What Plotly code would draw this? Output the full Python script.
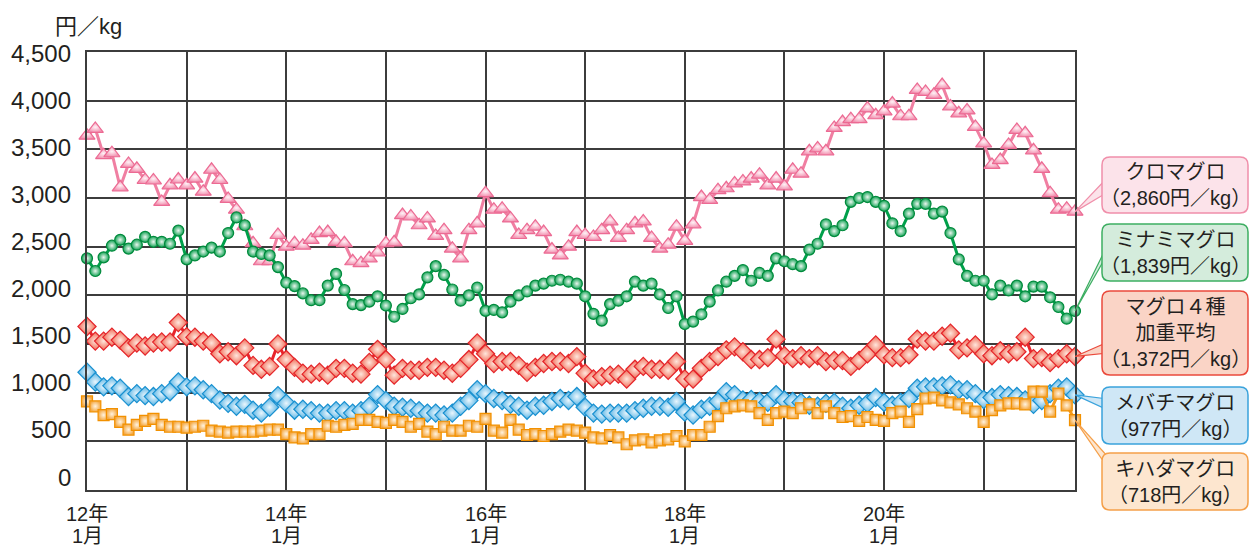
import plotly.graph_objects as go

# Monthly prices, Jan 2012 .. Dec 2021 (yen / kg)
months = list(range(120))

kuro = [3640, 3710, 3440, 3460, 3110, 3350, 3300, 3185, 3180, 2960, 3130, 3190,
        3130, 3200, 3065, 3290, 3185, 2990, 2880, 2710, 2535, 2350, 2350, 2620,
        2500, 2535, 2510, 2570, 2640, 2650, 2550, 2535, 2350, 2330, 2380, 2440,
        2535, 2545, 2825, 2810, 2720, 2790, 2610, 2670, 2480, 2380, 2670, 2740,
        3050, 2880, 2890, 2790, 2620, 2670, 2705, 2650, 2470, 2410, 2500, 2650,
        2620, 2600, 2670, 2760, 2590, 2670, 2740, 2760, 2590, 2480, 2520, 2705,
        2560, 2730, 3010, 2980, 3080, 3100, 3150, 3170, 3200, 3240, 3130, 3200,
        3120, 3290, 3250, 3480, 3510, 3480, 3720, 3780, 3810, 3810, 3920, 3850,
        3890, 3970, 3840, 3840, 4110, 4090, 4060, 4160, 3940, 3870, 3900, 3730,
        3560, 3340, 3390, 3545, 3700, 3665, 3490, 3300, 3050, 2880, 2890, 2860]

minami = [2380, 2250, 2390, 2510, 2570, 2480, 2520, 2600, 2550, 2550, 2530, 2665,
          2370, 2410, 2450, 2490, 2450, 2640, 2800, 2720, 2450, 2425, 2410, 2290,
          2130, 2095, 2020, 1950, 1950, 2100, 2220, 2055, 1910, 1900, 1935, 1990,
          1895, 1780, 1860, 1970, 2010, 2185, 2300, 2210, 2060, 1945, 2000, 2080,
          1840, 1850, 1825, 1935, 2000, 2040, 2100, 2120, 2150, 2160, 2140, 2120,
          1990, 1810, 1740, 1910, 1945, 1990, 2140, 2100, 2120, 2010, 1870, 1990,
          1705, 1730, 1805, 1935, 2050, 2140, 2200, 2260, 2150, 2230, 2200, 2380,
          2350, 2320, 2300, 2470, 2530, 2730, 2660, 2720, 2960, 3000, 3010, 2960,
          2920, 2740, 2660, 2840, 2940, 2940, 2840, 2860, 2640, 2370, 2200, 2150,
          2150, 2010, 2100, 2050, 2100, 1990, 2090, 2090, 1980, 1880, 1760, 1839]

avg4 = [1680, 1530, 1530, 1570, 1540, 1460, 1510, 1480, 1510, 1520, 1520, 1720,
        1575, 1570, 1530, 1510, 1400, 1420, 1380, 1460, 1280, 1240, 1270, 1500,
        1340, 1260, 1200, 1190, 1210, 1180, 1250, 1250, 1200, 1190, 1310, 1445,
        1340, 1180, 1250, 1230, 1230, 1260, 1260, 1230, 1200, 1250, 1340, 1510,
        1400, 1300, 1320, 1320, 1280, 1210, 1260, 1300, 1320, 1320, 1300, 1370,
        1200, 1140, 1165, 1180, 1190, 1140, 1240, 1270, 1240, 1240, 1230, 1320,
        1140, 1140, 1250, 1320, 1370, 1440, 1470, 1420, 1340, 1340, 1360, 1550,
        1380, 1350, 1380, 1350, 1380, 1320, 1330, 1330, 1270, 1330, 1400, 1490,
        1390, 1360, 1360, 1390, 1550, 1530, 1530, 1580, 1610, 1440, 1460, 1490,
        1400, 1380, 1430, 1400, 1420, 1570, 1350, 1360, 1310, 1350, 1400, 1372]

mebachi = [1210, 1110, 1060, 1070, 1045, 960, 990, 970, 960, 990, 1010, 1110,
           1060, 1070, 1030, 990, 925, 890, 860, 880, 820, 790, 850, 970,
           890, 820, 830, 815, 790, 790, 815, 815, 790, 815, 860, 980,
           920, 860, 850, 840, 815, 790, 790, 770, 790, 860, 920, 1030,
           990, 940, 920, 880, 860, 820, 860, 870, 910, 940, 920, 960,
           850, 790, 780, 790, 790, 790, 815, 840, 860, 860, 850, 910,
           800, 770, 830, 860, 910, 1010, 980, 925, 930, 910, 900, 980,
           925, 910, 900, 870, 860, 890, 900, 860, 840, 870, 890, 950,
           900, 870, 900, 940, 1045, 1060, 1060, 1070, 1080, 1030, 1030, 990,
           930, 950, 980, 970, 960, 925, 880, 920, 990, 1045, 1060, 977]

kihada = [910, 860, 770, 780, 700, 620, 670, 710, 730, 670, 650, 650,
          640, 650, 660, 610, 600, 590, 600, 600, 600, 610, 620, 620,
          575, 540, 530, 575, 575, 660, 650, 670, 680, 720, 720, 700,
          690, 720, 700, 650, 680, 600, 575, 650, 610, 610, 660, 650,
          730, 610, 590, 720, 620, 565, 575, 555, 575, 600, 620, 610,
          590, 540, 530, 565, 540, 470, 510, 520, 490, 510, 520, 555,
          500, 565, 565, 650, 760, 840, 860, 870, 860, 790, 720, 790,
          805, 790, 840, 880, 790, 860, 790, 750, 760, 710, 750, 720,
          710, 790, 805, 700, 830, 940, 950, 920, 900, 880, 840, 805,
          700, 820, 870, 890, 890, 880, 1010, 1010, 805, 990, 870, 718]

names = ["クロマグロ", "ミナミマグロ", "マグロ４種<br>加重平均", "メバチマグロ", "キハダマグロ"]
series = [kuro, minami, avg4, mebachi, kihada]

# yearly gridlines; a two-line label (year / month) every second January
x_gridvals = list(range(0, 120, 12))
x_labelvals = [0, 24, 48, 72, 96]
x_labelyears = ["12年", "14年", "16年", "18年", "20年"]
x_labelmonth = "1月"
y_tickvals = list(range(0, 4501, 500))
y_ticktext = ["0", "500", "1,000", "1,500", "2,000", "2,500",
              "3,000", "3,500", "4,000", "4,500"]

Y_MAX = 4500
FONT = "Noto Sans CJK JP, Noto Sans, sans-serif"
NUM_FONT = "Liberation Sans, Noto Sans CJK JP, sans-serif"
TEXT = "#231F20"
GRID = "#3C3C3C"

styles = [
    dict(line="#F07FA2", mk="#F291B0", mc="#FFF2F6", me="#EC6A93", sym="triangle-up", size=14,
         fill="#FCE3EA", edge="#F08FAA"),
    dict(line="#00A04A", mk="#13A355", mc="#EAF6EE", me="#008A3C", sym="circle", size=11,
         fill="#D4ECDC", edge="#3DAE62"),
    dict(line="#E8242B", mk="#F06A55", mc="#FFE6DC", me="#E5242A", sym="diamond", size=14,
         fill="#FAD4C6", edge="#EA4A3C"),
    dict(line="#1C9AD6", mk="#58B4E4", mc="#EAF6FD", me="#1890D0", sym="diamond", size=14,
         fill="#CFE7F6", edge="#3AA3DC"),
    dict(line="#F39A1E", mk="#F5AA45", mc="#FFF3E0", me="#F29100", sym="square", size=11,
         fill="#FDE6CF", edge="#F5A04A"),
]

fig = go.Figure()
for name, vals, st in zip(names, series, styles):
    fig.add_trace(go.Scatter(
        x=months, y=vals, mode="lines+markers", name=name.replace("<br>", ""),
        line=dict(color=st["line"], width=3),
        marker=dict(symbol=st["sym"], size=st["size"], color=st["mk"],
                    gradient=dict(type="radial", color=st["mc"]),
                    line=dict(color=st["me"], width=1.2)),
        cliponaxis=False, showlegend=False,
    ))

# plot area in pixels (used to place the callout boxes)
PL, PR, PT, PB = 87, 1075, 52, 490


def px(x):
    return (x - PL) / (PR - PL)


def py(y):
    return (PB - y) / (PB - PT)


def rounded_rect(x0, y0, x1, y1, r=8):
    pts = [
        f"M {px(x0 + r)},{py(y0)}",
        f"L {px(x1 - r)},{py(y0)}",
        f"Q {px(x1)},{py(y0)} {px(x1)},{py(y0 + r)}",
        f"L {px(x1)},{py(y1 - r)}",
        f"Q {px(x1)},{py(y1)} {px(x1 - r)},{py(y1)}",
        f"L {px(x0 + r)},{py(y1)}",
        f"Q {px(x0)},{py(y1)} {px(x0)},{py(y1 - r)}",
        f"L {px(x0)},{py(y0 + r)}",
        f"Q {px(x0)},{py(y0)} {px(x0 + r)},{py(y0)}",
        "Z",
    ]
    return " ".join(pts)


# callout boxes: (top, bottom, wedge base top, wedge base bottom)
BOX_L, BOX_R = 1102, 1248
boxes = [
    (157, 213, 177, 192),
    (224, 281, 244, 253),
    (291, 375, 342, 353),
    (387, 444, 399, 410),
    (453, 510, 457, 468),
]

for name, vals, st, (top, bot, w0, w1) in zip(names, series, styles, boxes):
    tip_y = vals[-1] / Y_MAX
    wedge = (f"M {px(BOX_L + 6)},{py(w0)} L 1,{tip_y} "
             f"L {px(BOX_L + 6)},{py(w1)} Z")
    fig.add_shape(type="path", path=wedge, xref="paper", yref="paper",
                  fillcolor=st["fill"], line=dict(color=st["edge"], width=1.2),
                  layer="above")
    fig.add_shape(type="path", path=rounded_rect(BOX_L, top, BOX_R, bot),
                  xref="paper", yref="paper", fillcolor=st["fill"],
                  line=dict(color=st["edge"], width=1.5), layer="above")
    label = f"{name}<br>（{vals[-1]:,}円／kg）"
    fig.add_annotation(x=px((BOX_L + BOX_R) / 2), y=py((top + bot) / 2),
                       xref="paper", yref="paper", text=label, showarrow=False,
                       xanchor="center", yanchor="middle", align="center",
                       font=dict(family=NUM_FONT, size=20, color=TEXT))

# y labels sit a little above their gridlines, more so toward the bottom
for v, t in zip(y_tickvals, y_ticktext):
    fig.add_annotation(x=0, y=v, xref="paper", yref="y", text=t, showarrow=False,
                       xanchor="right", yanchor="middle", xshift=-14,
                       yshift=13 - 14 * v / Y_MAX,
                       font=dict(family=NUM_FONT, size=24, color=TEXT))

# x labels: year line and month line, set a little tighter than default leading
for v, yr in zip(x_labelvals, x_labelyears):
    for txt, shift in ((yr, -24), (x_labelmonth, -46)):
        fig.add_annotation(x=v, y=0, xref="x", yref="paper", text=txt,
                           showarrow=False, xanchor="center", yanchor="middle",
                           yshift=shift,
                           font=dict(family=NUM_FONT, size=20, color=TEXT))

# unit label
fig.add_annotation(x=px(88), y=py(27), xref="paper", yref="paper",
                   text="円／kg", showarrow=False, xanchor="center", yanchor="middle",
                   font=dict(family=NUM_FONT, size=22, color=TEXT))

fig.update_layout(
    width=1250, height=548,
    margin=dict(l=PL, r=1250 - PR, t=PT, b=548 - PB, pad=0),
    paper_bgcolor="white", plot_bgcolor="white",
    font=dict(family=FONT, color=TEXT),
    xaxis=dict(range=[0, 119], tickmode="array", tickvals=x_gridvals,
               showticklabels=False, showgrid=True, gridcolor=GRID, gridwidth=1.5,
               showline=True, linecolor=GRID, linewidth=1.5, mirror=True,
               zeroline=False, ticks="", automargin=False),
    yaxis=dict(range=[0, Y_MAX], tickmode="array", tickvals=y_tickvals,
               showticklabels=False, showgrid=True, gridcolor=GRID, gridwidth=1.5,
               showline=True, linecolor=GRID, linewidth=1.5, mirror=True,
               zeroline=False, ticks="", automargin=False),
)

fig.write_html("out.html")
